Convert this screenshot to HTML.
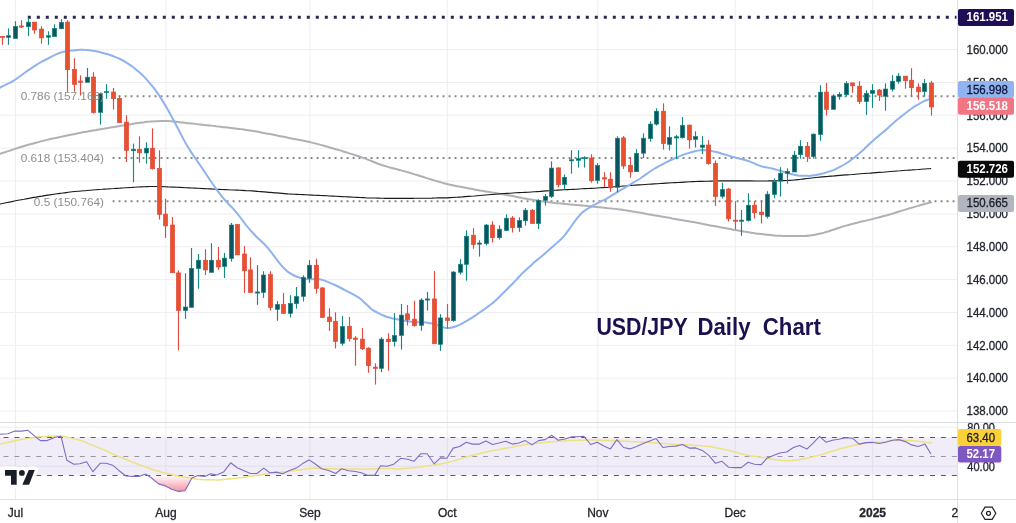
<!DOCTYPE html><html><head><meta charset="utf-8"><title>USD/JPY Daily Chart</title>
<style>html,body{margin:0;padding:0;background:#fff;}body{width:1016px;height:523px;overflow:hidden;font-family:"Liberation Sans",sans-serif;}svg{display:block;filter:blur(0.4px)}text{font-family:"Liberation Sans",sans-serif;}</style></head><body>
<svg width="1016" height="523" viewBox="0 0 1016 523">
<defs><linearGradient id="os" x1="0" y1="475" x2="0" y2="492" gradientUnits="userSpaceOnUse"><stop offset="0" stop-color="#ffffff"/><stop offset="1" stop-color="#f48fa0"/></linearGradient>
<clipPath id="below30"><rect x="0" y="475" width="957" height="25"/></clipPath>
<clipPath id="main"><rect x="0" y="0" width="957" height="422"/></clipPath></defs>
<rect width="1016" height="523" fill="#ffffff"/>
<g stroke="#eeeef1" stroke-width="1">
<line x1="0" y1="411.1" x2="957.5" y2="411.1"/>
<line x1="0" y1="378.2" x2="957.5" y2="378.2"/>
<line x1="0" y1="345.3" x2="957.5" y2="345.3"/>
<line x1="0" y1="312.5" x2="957.5" y2="312.5"/>
<line x1="0" y1="279.6" x2="957.5" y2="279.6"/>
<line x1="0" y1="246.8" x2="957.5" y2="246.8"/>
<line x1="0" y1="213.9" x2="957.5" y2="213.9"/>
<line x1="0" y1="181.0" x2="957.5" y2="181.0"/>
<line x1="0" y1="148.2" x2="957.5" y2="148.2"/>
<line x1="0" y1="115.3" x2="957.5" y2="115.3"/>
<line x1="0" y1="82.5" x2="957.5" y2="82.5"/>
<line x1="0" y1="49.6" x2="957.5" y2="49.6"/>
<line x1="15.4" y1="0" x2="15.4" y2="499"/>
<line x1="165.9" y1="0" x2="165.9" y2="499"/>
<line x1="309.9" y1="0" x2="309.9" y2="499"/>
<line x1="447.3" y1="0" x2="447.3" y2="499"/>
<line x1="597.8" y1="0" x2="597.8" y2="499"/>
<line x1="735.2" y1="0" x2="735.2" y2="499"/>
<line x1="872.7" y1="0" x2="872.7" y2="499"/>
<line x1="0" y1="427.3" x2="957.5" y2="427.3"/>
<line x1="0" y1="466.2" x2="957.5" y2="466.2"/>
</g>
<rect x="0" y="437.4" width="957.5" height="37.8" fill="#7e57c2" fill-opacity="0.11"/>
<line x1="27.8" y1="17.3" x2="956.5" y2="17.3" stroke="#2c2552" stroke-width="3.0" stroke-dasharray="3.0 6.0"/>
<line x1="112.6" y1="96.2" x2="955.5" y2="96.2" stroke="#858585" stroke-width="1.9" stroke-dasharray="1.9 4.1"/>
<line x1="112.6" y1="158.0" x2="955.5" y2="158.0" stroke="#858585" stroke-width="1.9" stroke-dasharray="1.9 4.1"/>
<line x1="112.6" y1="201.3" x2="955.5" y2="201.3" stroke="#858585" stroke-width="1.9" stroke-dasharray="1.9 4.1"/>
<g fill="none" stroke-linejoin="round" stroke-linecap="round" clip-path="url(#main)">
<path d="M0.0 153.9 C1.0 153.6 4.0 152.6 6.0 151.9 C8.0 151.2 10.0 150.6 12.0 149.9 C14.0 149.3 16.0 148.6 18.0 147.9 C20.0 147.3 22.0 146.6 24.0 146.0 C26.0 145.4 28.0 144.8 30.0 144.3 C32.0 143.7 34.0 143.2 36.0 142.7 C38.0 142.2 40.0 141.6 42.0 141.1 C44.0 140.6 46.0 140.1 48.0 139.6 C50.0 139.1 52.0 138.7 54.0 138.3 C56.0 137.8 58.0 137.5 60.0 137.1 C62.0 136.6 64.0 136.2 66.0 135.8 C68.0 135.4 70.0 135.0 72.0 134.5 C74.0 134.1 76.0 133.7 78.0 133.3 C80.0 132.9 82.0 132.5 84.0 132.1 C86.0 131.8 88.0 131.4 90.0 131.0 C92.0 130.7 94.0 130.3 96.0 130.0 C98.0 129.6 100.0 129.3 102.0 128.9 C104.0 128.6 106.0 128.2 108.0 127.9 C110.0 127.5 112.0 127.2 114.0 126.9 C116.0 126.6 118.0 126.3 120.0 126.0 C122.0 125.6 124.0 125.3 126.0 125.0 C128.0 124.7 130.0 124.4 132.0 124.1 C134.0 123.7 136.0 123.4 138.0 123.1 C140.0 122.8 142.0 122.4 144.0 122.2 C146.0 121.9 148.0 121.7 150.0 121.6 C152.0 121.4 154.0 121.3 156.0 121.2 C158.0 121.1 160.0 121.0 162.0 121.0 C164.0 121.0 166.0 121.0 168.0 121.1 C170.0 121.2 172.0 121.4 174.0 121.6 C176.0 121.8 178.0 122.0 180.0 122.2 C182.0 122.4 184.0 122.7 186.0 122.9 C188.0 123.2 190.0 123.4 192.0 123.6 C194.0 123.8 196.0 124.0 198.0 124.3 C200.0 124.5 202.0 124.7 204.0 124.9 C206.0 125.1 208.0 125.3 210.0 125.5 C212.0 125.7 214.0 125.9 216.0 126.2 C218.0 126.4 220.0 126.6 222.0 126.9 C224.0 127.1 226.0 127.4 228.0 127.6 C230.0 127.8 232.0 128.1 234.0 128.3 C236.0 128.6 238.0 128.8 240.0 129.1 C242.0 129.3 244.0 129.6 246.0 129.9 C248.0 130.2 250.0 130.5 252.0 130.8 C254.0 131.1 256.0 131.5 258.0 131.8 C260.0 132.2 262.0 132.6 264.0 133.0 C266.0 133.4 268.0 133.8 270.0 134.1 C272.0 134.5 274.0 134.9 276.0 135.3 C278.0 135.7 280.0 136.1 282.0 136.5 C284.0 136.9 286.0 137.3 288.0 137.7 C290.0 138.1 292.0 138.5 294.0 138.9 C296.0 139.3 298.0 139.7 300.0 140.1 C302.0 140.5 304.0 140.9 306.0 141.3 C308.0 141.7 310.0 142.1 312.0 142.6 C314.0 143.1 316.0 143.6 318.0 144.1 C320.0 144.6 322.0 145.2 324.0 145.8 C326.0 146.3 328.0 146.9 330.0 147.5 C332.0 148.0 334.0 148.6 336.0 149.2 C338.0 149.7 340.0 150.4 342.0 151.0 C344.0 151.6 346.0 152.3 348.0 152.9 C350.0 153.5 352.0 154.2 354.0 154.8 C356.0 155.5 358.0 156.1 360.0 156.8 C362.0 157.5 364.0 158.2 366.0 158.9 C368.0 159.7 370.0 160.5 372.0 161.3 C374.0 162.1 376.0 162.9 378.0 163.7 C380.0 164.4 382.0 165.1 384.0 165.8 C386.0 166.4 388.0 166.9 390.0 167.5 C392.0 168.0 394.0 168.5 396.0 169.0 C398.0 169.5 400.0 170.0 402.0 170.6 C404.0 171.1 406.0 171.7 408.0 172.3 C410.0 172.9 412.0 173.5 414.0 174.1 C416.0 174.7 418.0 175.4 420.0 176.0 C422.0 176.6 424.0 177.2 426.0 177.9 C428.0 178.5 430.0 179.1 432.0 179.7 C434.0 180.3 436.0 180.9 438.0 181.5 C440.0 182.0 442.0 182.7 444.0 183.2 C446.0 183.8 448.0 184.3 450.0 184.7 C452.0 185.2 454.0 185.6 456.0 186.0 C458.0 186.4 460.0 186.7 462.0 187.1 C464.0 187.5 466.0 187.9 468.0 188.3 C470.0 188.7 472.0 189.0 474.0 189.4 C476.0 189.8 478.0 190.1 480.0 190.5 C482.0 190.8 484.0 191.1 486.0 191.5 C488.0 191.8 490.0 192.1 492.0 192.5 C494.0 192.8 496.0 193.1 498.0 193.5 C500.0 193.8 502.0 194.2 504.0 194.5 C506.0 194.9 508.0 195.3 510.0 195.6 C512.0 196.0 514.0 196.4 516.0 196.8 C518.0 197.1 520.0 197.5 522.0 197.9 C524.0 198.2 526.0 198.6 528.0 199.0 C530.0 199.3 532.0 199.7 534.0 200.1 C536.0 200.4 538.0 200.7 540.0 201.0 C542.0 201.3 544.0 201.5 546.0 201.8 C548.0 202.1 550.0 202.3 552.0 202.6 C554.0 202.8 556.0 203.1 558.0 203.3 C560.0 203.5 562.0 203.7 564.0 203.8 C566.0 204.0 568.0 204.2 570.0 204.4 C572.0 204.6 574.0 204.8 576.0 204.9 C578.0 205.1 580.0 205.3 582.0 205.5 C584.0 205.7 586.0 205.9 588.0 206.1 C590.0 206.3 592.0 206.5 594.0 206.7 C596.0 206.9 598.0 207.1 600.0 207.3 C602.0 207.5 604.0 207.7 606.0 207.9 C608.0 208.1 610.0 208.3 612.0 208.6 C614.0 208.8 616.0 209.0 618.0 209.3 C620.0 209.5 622.0 209.8 624.0 210.1 C626.0 210.3 628.0 210.7 630.0 211.0 C632.0 211.3 634.0 211.7 636.0 212.1 C638.0 212.4 640.0 212.8 642.0 213.1 C644.0 213.5 646.0 213.9 648.0 214.2 C650.0 214.6 652.0 214.9 654.0 215.3 C656.0 215.6 658.0 216.0 660.0 216.3 C662.0 216.6 664.0 217.0 666.0 217.3 C668.0 217.7 670.0 218.0 672.0 218.4 C674.0 218.7 676.0 219.1 678.0 219.4 C680.0 219.8 682.0 220.1 684.0 220.5 C686.0 220.8 688.0 221.2 690.0 221.6 C692.0 221.9 694.0 222.3 696.0 222.6 C698.0 223.0 700.0 223.4 702.0 223.8 C704.0 224.1 706.0 224.5 708.0 224.9 C710.0 225.3 712.0 225.7 714.0 226.0 C716.0 226.4 718.0 226.8 720.0 227.2 C722.0 227.6 724.0 227.9 726.0 228.3 C728.0 228.7 730.0 229.0 732.0 229.4 C734.0 229.8 736.0 230.1 738.0 230.5 C740.0 230.8 742.0 231.2 744.0 231.6 C746.0 231.9 748.0 232.3 750.0 232.6 C752.0 232.9 754.0 233.1 756.0 233.4 C758.0 233.6 760.0 233.9 762.0 234.1 C764.0 234.3 766.0 234.6 768.0 234.8 C770.0 235.0 772.0 235.3 774.0 235.4 C776.0 235.6 778.0 235.7 780.0 235.8 C782.0 235.9 784.0 235.9 786.0 236.0 C788.0 236.0 790.0 236.1 792.0 236.1 C794.0 236.1 796.0 236.1 798.0 236.1 C800.0 236.1 802.0 236.1 804.0 236.1 C806.0 236.0 808.0 235.8 810.0 235.5 C812.0 235.3 814.0 234.9 816.0 234.5 C818.0 234.1 820.0 233.7 822.0 233.2 C824.0 232.6 826.0 232.1 828.0 231.5 C830.0 230.8 832.0 230.1 834.0 229.5 C836.0 228.8 838.0 228.1 840.0 227.5 C842.0 226.8 844.0 226.2 846.0 225.6 C848.0 225.0 850.0 224.5 852.0 224.0 C854.0 223.5 856.0 223.0 858.0 222.5 C860.0 222.0 862.0 221.5 864.0 221.1 C866.0 220.6 868.0 220.1 870.0 219.6 C872.0 219.1 874.0 218.6 876.0 218.1 C878.0 217.6 880.0 217.1 882.0 216.5 C884.0 216.0 886.0 215.5 888.0 215.0 C890.0 214.4 892.0 213.8 894.0 213.2 C896.0 212.6 898.0 212.0 900.0 211.3 C902.0 210.7 904.0 210.0 906.0 209.4 C908.0 208.8 910.0 208.2 912.0 207.6 C914.0 207.0 916.0 206.4 918.0 205.9 C920.0 205.3 922.0 204.8 924.0 204.2 C926.0 203.7 928.8 202.9 930.0 202.6 C931.2 202.3 930.8 202.4 931.0 202.4" stroke="#b0b0b6" stroke-width="2"/>
<path d="M0.0 204.0 C1.0 203.8 4.0 203.2 6.0 202.8 C8.0 202.4 10.0 202.0 12.0 201.6 C14.0 201.1 16.0 200.7 18.0 200.3 C20.0 199.9 22.0 199.5 24.0 199.2 C26.0 198.8 28.0 198.4 30.0 198.1 C32.0 197.7 34.0 197.4 36.0 197.1 C38.0 196.7 40.0 196.4 42.0 196.1 C44.0 195.7 46.0 195.4 48.0 195.1 C50.0 194.8 52.0 194.5 54.0 194.2 C56.0 193.9 58.0 193.7 60.0 193.4 C62.0 193.1 64.0 192.9 66.0 192.6 C68.0 192.4 70.0 192.1 72.0 191.8 C74.0 191.6 76.0 191.4 78.0 191.2 C80.0 191.0 82.0 190.9 84.0 190.7 C86.0 190.5 88.0 190.4 90.0 190.2 C92.0 190.1 94.0 189.9 96.0 189.7 C98.0 189.6 100.0 189.4 102.0 189.3 C104.0 189.1 106.0 189.0 108.0 188.9 C110.0 188.7 112.0 188.6 114.0 188.5 C116.0 188.3 118.0 188.2 120.0 188.1 C122.0 187.9 124.0 187.8 126.0 187.7 C128.0 187.6 130.0 187.5 132.0 187.4 C134.0 187.2 136.0 187.1 138.0 187.0 C140.0 186.9 142.0 186.8 144.0 186.7 C146.0 186.6 148.0 186.6 150.0 186.5 C152.0 186.5 154.0 186.5 156.0 186.5 C158.0 186.5 160.0 186.6 162.0 186.6 C164.0 186.7 166.0 186.8 168.0 186.9 C170.0 186.9 172.0 187.0 174.0 187.1 C176.0 187.2 178.0 187.3 180.0 187.4 C182.0 187.5 184.0 187.6 186.0 187.7 C188.0 187.8 190.0 187.9 192.0 188.0 C194.0 188.1 196.0 188.2 198.0 188.3 C200.0 188.4 202.0 188.5 204.0 188.6 C206.0 188.7 208.0 188.8 210.0 188.9 C212.0 189.0 214.0 189.1 216.0 189.2 C218.0 189.3 220.0 189.4 222.0 189.5 C224.0 189.6 226.0 189.7 228.0 189.8 C230.0 189.9 232.0 190.0 234.0 190.0 C236.0 190.1 238.0 190.2 240.0 190.3 C242.0 190.4 244.0 190.4 246.0 190.6 C248.0 190.7 250.0 190.8 252.0 190.9 C254.0 191.1 256.0 191.2 258.0 191.4 C260.0 191.5 262.0 191.7 264.0 191.9 C266.0 192.1 268.0 192.2 270.0 192.4 C272.0 192.6 274.0 192.7 276.0 192.9 C278.0 193.1 280.0 193.3 282.0 193.4 C284.0 193.6 286.0 193.7 288.0 193.9 C290.0 194.0 292.0 194.1 294.0 194.2 C296.0 194.3 298.0 194.4 300.0 194.5 C302.0 194.6 304.0 194.7 306.0 194.8 C308.0 194.9 310.0 195.0 312.0 195.1 C314.0 195.2 316.0 195.3 318.0 195.4 C320.0 195.5 322.0 195.5 324.0 195.6 C326.0 195.7 328.0 195.9 330.0 196.0 C332.0 196.1 334.0 196.2 336.0 196.3 C338.0 196.4 340.0 196.5 342.0 196.6 C344.0 196.7 346.0 196.8 348.0 196.9 C350.0 197.0 352.0 197.1 354.0 197.2 C356.0 197.3 358.0 197.4 360.0 197.5 C362.0 197.6 364.0 197.7 366.0 197.8 C368.0 197.8 370.0 197.9 372.0 198.0 C374.0 198.0 376.0 198.1 378.0 198.1 C380.0 198.2 382.0 198.2 384.0 198.3 C386.0 198.3 388.0 198.3 390.0 198.4 C392.0 198.4 394.0 198.4 396.0 198.4 C398.0 198.4 400.0 198.3 402.0 198.3 C404.0 198.3 406.0 198.3 408.0 198.3 C410.0 198.3 412.0 198.3 414.0 198.3 C416.0 198.2 418.0 198.2 420.0 198.2 C422.0 198.2 424.0 198.2 426.0 198.2 C428.0 198.1 430.0 198.1 432.0 198.1 C434.0 198.0 436.0 198.0 438.0 197.9 C440.0 197.9 442.0 197.9 444.0 197.8 C446.0 197.8 448.0 197.7 450.0 197.6 C452.0 197.5 454.0 197.4 456.0 197.3 C458.0 197.2 460.0 197.0 462.0 196.9 C464.0 196.7 466.0 196.6 468.0 196.4 C470.0 196.3 472.0 196.1 474.0 196.0 C476.0 195.8 478.0 195.7 480.0 195.5 C482.0 195.4 484.0 195.2 486.0 195.0 C488.0 194.9 490.0 194.7 492.0 194.5 C494.0 194.3 496.0 194.2 498.0 194.0 C500.0 193.9 502.0 193.7 504.0 193.5 C506.0 193.4 508.0 193.3 510.0 193.2 C512.0 193.0 514.0 193.0 516.0 192.8 C518.0 192.7 520.0 192.6 522.0 192.5 C524.0 192.4 526.0 192.3 528.0 192.2 C530.0 192.1 532.0 192.0 534.0 191.8 C536.0 191.7 538.0 191.5 540.0 191.4 C542.0 191.2 544.0 191.1 546.0 190.9 C548.0 190.8 550.0 190.6 552.0 190.5 C554.0 190.4 556.0 190.2 558.0 190.1 C560.0 190.0 562.0 189.9 564.0 189.8 C566.0 189.7 568.0 189.6 570.0 189.5 C572.0 189.4 574.0 189.3 576.0 189.2 C578.0 189.1 580.0 188.9 582.0 188.8 C584.0 188.7 586.0 188.6 588.0 188.5 C590.0 188.4 592.0 188.3 594.0 188.2 C596.0 188.1 598.0 188.0 600.0 187.8 C602.0 187.7 604.0 187.6 606.0 187.5 C608.0 187.3 610.0 187.2 612.0 187.0 C614.0 186.9 616.0 186.7 618.0 186.5 C620.0 186.3 622.0 186.2 624.0 186.0 C626.0 185.8 628.0 185.7 630.0 185.5 C632.0 185.4 634.0 185.2 636.0 185.1 C638.0 185.0 640.0 184.8 642.0 184.7 C644.0 184.6 646.0 184.4 648.0 184.3 C650.0 184.2 652.0 184.1 654.0 183.9 C656.0 183.8 658.0 183.7 660.0 183.5 C662.0 183.4 664.0 183.3 666.0 183.1 C668.0 183.0 670.0 182.9 672.0 182.8 C674.0 182.7 676.0 182.6 678.0 182.5 C680.0 182.4 682.0 182.3 684.0 182.1 C686.0 182.0 688.0 181.9 690.0 181.8 C692.0 181.7 694.0 181.6 696.0 181.5 C698.0 181.4 700.0 181.4 702.0 181.3 C704.0 181.3 706.0 181.2 708.0 181.2 C710.0 181.1 712.0 181.1 714.0 181.0 C716.0 181.0 718.0 180.9 720.0 180.9 C722.0 180.9 724.0 180.8 726.0 180.8 C728.0 180.8 730.0 180.8 732.0 180.8 C734.0 180.9 736.0 180.9 738.0 180.9 C740.0 180.9 742.0 180.9 744.0 180.9 C746.0 180.9 748.0 180.9 750.0 180.9 C752.0 181.0 754.0 181.0 756.0 181.0 C758.0 181.0 760.0 181.0 762.0 181.0 C764.0 180.9 766.0 180.9 768.0 180.9 C770.0 180.8 772.0 180.8 774.0 180.8 C776.0 180.7 778.0 180.7 780.0 180.7 C782.0 180.6 784.0 180.6 786.0 180.5 C788.0 180.5 790.0 180.3 792.0 180.2 C794.0 180.0 796.0 179.8 798.0 179.6 C800.0 179.4 802.0 179.1 804.0 178.9 C806.0 178.7 808.0 178.5 810.0 178.2 C812.0 178.0 814.0 177.8 816.0 177.5 C818.0 177.3 820.0 177.1 822.0 176.9 C824.0 176.7 826.0 176.5 828.0 176.4 C830.0 176.2 832.0 176.0 834.0 175.9 C836.0 175.7 838.0 175.6 840.0 175.4 C842.0 175.3 844.0 175.1 846.0 174.9 C848.0 174.8 850.0 174.6 852.0 174.5 C854.0 174.3 856.0 174.2 858.0 174.0 C860.0 173.9 862.0 173.7 864.0 173.5 C866.0 173.4 868.0 173.2 870.0 173.1 C872.0 172.9 874.0 172.8 876.0 172.6 C878.0 172.5 880.0 172.3 882.0 172.2 C884.0 172.0 886.0 171.9 888.0 171.7 C890.0 171.6 892.0 171.4 894.0 171.2 C896.0 171.1 898.0 170.9 900.0 170.8 C902.0 170.6 904.0 170.5 906.0 170.3 C908.0 170.2 910.0 170.0 912.0 169.9 C914.0 169.7 916.0 169.6 918.0 169.5 C920.0 169.3 922.0 169.2 924.0 169.0 C926.0 168.9 928.9 168.6 930.0 168.6 C931.1 168.5 930.4 168.5 930.5 168.5" stroke="#1a1a1a" stroke-width="1.15"/>
<path d="M0.0 87.6 C1.0 87.1 4.0 85.6 6.0 84.6 C8.0 83.6 10.0 82.8 12.0 81.6 C14.0 80.5 16.0 79.2 18.0 77.8 C20.0 76.4 22.0 74.7 24.0 73.3 C26.0 71.8 28.0 70.4 30.0 69.1 C32.0 67.7 34.0 66.4 36.0 65.1 C38.0 63.9 40.0 62.7 42.0 61.5 C44.0 60.4 46.0 59.5 48.0 58.5 C50.0 57.4 52.0 56.4 54.0 55.4 C56.0 54.5 58.0 53.5 60.0 52.8 C62.0 52.1 64.0 51.7 66.0 51.3 C68.0 50.9 70.0 50.6 72.0 50.4 C74.0 50.2 76.0 50.1 78.0 49.9 C80.0 49.8 82.0 49.6 84.0 49.7 C86.0 49.7 88.0 49.9 90.0 50.2 C92.0 50.5 94.0 50.9 96.0 51.3 C98.0 51.7 100.0 52.2 102.0 52.7 C104.0 53.2 106.0 53.7 108.0 54.3 C110.0 55.0 112.0 55.7 114.0 56.5 C116.0 57.3 118.0 58.0 120.0 59.0 C122.0 60.0 124.0 61.1 126.0 62.3 C128.0 63.5 130.0 64.8 132.0 66.3 C134.0 67.8 136.0 69.5 138.0 71.2 C140.0 72.9 142.0 74.5 144.0 76.6 C146.0 78.6 148.0 81.0 150.0 83.4 C152.0 85.7 154.0 88.1 156.0 90.9 C158.0 93.6 160.0 96.7 162.0 99.9 C164.0 103.1 166.0 106.5 168.0 110.0 C170.0 113.5 172.0 117.2 174.0 121.0 C176.0 124.7 178.0 128.7 180.0 132.5 C182.0 136.3 184.0 140.3 186.0 143.7 C188.0 147.2 190.0 150.3 192.0 153.4 C194.0 156.5 196.0 159.2 198.0 162.1 C200.0 165.0 202.0 168.0 204.0 170.9 C206.0 173.9 208.0 177.0 210.0 180.0 C212.0 182.9 214.0 185.8 216.0 188.6 C218.0 191.4 220.0 194.1 222.0 196.6 C224.0 199.1 226.0 201.3 228.0 203.5 C230.0 205.7 232.0 207.4 234.0 209.6 C236.0 211.9 238.0 214.5 240.0 217.0 C242.0 219.6 244.0 222.5 246.0 225.0 C248.0 227.5 250.0 229.8 252.0 232.0 C254.0 234.2 256.0 236.4 258.0 238.3 C260.0 240.3 262.0 241.7 264.0 243.8 C266.0 245.8 268.0 248.2 270.0 250.7 C272.0 253.2 274.0 255.9 276.0 258.5 C278.0 261.1 280.0 263.8 282.0 266.1 C284.0 268.3 286.0 270.3 288.0 271.9 C290.0 273.4 292.0 274.5 294.0 275.5 C296.0 276.5 298.0 277.2 300.0 277.8 C302.0 278.4 304.0 278.8 306.0 279.1 C308.0 279.3 310.0 279.2 312.0 279.2 C314.0 279.2 316.0 278.9 318.0 279.1 C320.0 279.3 322.0 279.8 324.0 280.4 C326.0 281.1 328.0 282.0 330.0 282.9 C332.0 283.7 334.0 284.6 336.0 285.5 C338.0 286.5 340.0 287.5 342.0 288.5 C344.0 289.5 346.0 290.6 348.0 291.6 C350.0 292.7 352.0 293.7 354.0 294.9 C356.0 296.0 358.0 296.9 360.0 298.5 C362.0 300.0 364.0 302.2 366.0 304.0 C368.0 305.8 370.0 308.0 372.0 309.5 C374.0 310.9 376.0 311.8 378.0 312.9 C380.0 313.9 382.0 314.9 384.0 315.7 C386.0 316.5 388.0 317.2 390.0 317.7 C392.0 318.3 394.0 318.7 396.0 319.1 C398.0 319.5 400.0 319.9 402.0 320.2 C404.0 320.6 406.0 320.9 408.0 321.2 C410.0 321.5 412.0 321.8 414.0 322.0 C416.0 322.2 418.0 322.2 420.0 322.3 C422.0 322.4 424.0 322.2 426.0 322.4 C428.0 322.6 430.0 323.0 432.0 323.5 C434.0 324.0 436.0 324.7 438.0 325.4 C440.0 326.0 442.0 327.0 444.0 327.4 C446.0 327.8 448.0 328.1 450.0 327.9 C452.0 327.7 454.0 327.0 456.0 326.3 C458.0 325.6 460.0 324.6 462.0 323.6 C464.0 322.6 466.0 321.4 468.0 320.2 C470.0 319.0 472.0 317.7 474.0 316.4 C476.0 315.0 478.0 313.7 480.0 312.3 C482.0 310.9 484.0 309.5 486.0 308.1 C488.0 306.6 490.0 305.3 492.0 303.6 C494.0 302.0 496.0 300.1 498.0 298.2 C500.0 296.3 502.0 294.2 504.0 292.2 C506.0 290.2 508.0 288.3 510.0 286.3 C512.0 284.2 514.0 282.2 516.0 280.1 C518.0 278.0 520.0 275.6 522.0 273.6 C524.0 271.6 526.0 269.8 528.0 268.0 C530.0 266.1 532.0 264.4 534.0 262.6 C536.0 260.9 538.0 259.2 540.0 257.6 C542.0 255.9 544.0 254.3 546.0 252.5 C548.0 250.8 550.0 249.1 552.0 247.3 C554.0 245.5 556.0 243.8 558.0 241.9 C560.0 240.1 562.0 238.4 564.0 236.1 C566.0 233.8 568.0 230.8 570.0 228.0 C572.0 225.3 574.0 222.1 576.0 219.6 C578.0 217.0 580.0 214.6 582.0 212.7 C584.0 210.9 586.0 209.8 588.0 208.5 C590.0 207.2 592.0 206.1 594.0 205.0 C596.0 203.8 598.0 202.8 600.0 201.8 C602.0 200.8 604.0 200.1 606.0 199.1 C608.0 198.0 610.0 196.6 612.0 195.4 C614.0 194.2 616.0 192.9 618.0 191.7 C620.0 190.5 622.0 189.4 624.0 188.2 C626.0 187.0 628.0 185.8 630.0 184.6 C632.0 183.4 634.0 182.3 636.0 181.0 C638.0 179.8 640.0 178.6 642.0 177.2 C644.0 175.9 646.0 174.4 648.0 173.0 C650.0 171.6 652.0 170.2 654.0 169.0 C656.0 167.7 658.0 166.7 660.0 165.6 C662.0 164.6 664.0 163.5 666.0 162.4 C668.0 161.4 670.0 160.4 672.0 159.5 C674.0 158.5 676.0 157.7 678.0 156.9 C680.0 156.1 682.0 155.2 684.0 154.5 C686.0 153.8 688.0 153.2 690.0 152.6 C692.0 152.1 694.0 151.5 696.0 151.0 C698.0 150.6 700.0 150.0 702.0 149.9 C704.0 149.9 706.0 150.3 708.0 150.5 C710.0 150.8 712.0 151.1 714.0 151.6 C716.0 152.0 718.0 152.5 720.0 153.0 C722.0 153.6 724.0 154.3 726.0 154.9 C728.0 155.5 730.0 156.1 732.0 156.7 C734.0 157.2 736.0 157.7 738.0 158.2 C740.0 158.7 742.0 159.1 744.0 159.7 C746.0 160.3 748.0 160.9 750.0 161.6 C752.0 162.4 754.0 163.4 756.0 164.2 C758.0 165.0 760.0 165.9 762.0 166.5 C764.0 167.0 766.0 167.2 768.0 167.6 C770.0 168.1 772.0 168.5 774.0 169.0 C776.0 169.6 778.0 170.2 780.0 170.8 C782.0 171.3 784.0 171.9 786.0 172.5 C788.0 173.1 790.0 173.8 792.0 174.3 C794.0 174.8 796.0 175.2 798.0 175.4 C800.0 175.7 802.0 175.7 804.0 175.8 C806.0 175.8 808.0 176.0 810.0 175.9 C812.0 175.7 814.0 175.3 816.0 175.0 C818.0 174.6 820.0 174.2 822.0 173.7 C824.0 173.2 826.0 172.6 828.0 171.9 C830.0 171.3 832.0 170.7 834.0 169.9 C836.0 169.0 838.0 168.0 840.0 166.9 C842.0 165.9 844.0 164.7 846.0 163.5 C848.0 162.2 850.0 160.7 852.0 159.2 C854.0 157.7 856.0 156.1 858.0 154.4 C860.0 152.7 862.0 151.0 864.0 149.2 C866.0 147.3 868.0 145.3 870.0 143.5 C872.0 141.7 874.0 139.9 876.0 138.1 C878.0 136.4 880.0 134.9 882.0 133.1 C884.0 131.4 886.0 129.7 888.0 127.9 C890.0 126.1 892.0 124.2 894.0 122.5 C896.0 120.7 898.0 119.1 900.0 117.4 C902.0 115.8 904.0 114.2 906.0 112.7 C908.0 111.1 910.0 109.6 912.0 108.2 C914.0 106.8 916.0 105.7 918.0 104.5 C920.0 103.3 922.1 102.0 924.0 101.1 C925.9 100.2 928.6 99.5 929.5 99.1" stroke="#8fb3ee" stroke-width="2"/>
</g>
<g>
<line x1="2.5" y1="36.2" x2="2.5" y2="44.8" stroke="#dc4a40" stroke-width="1.15"/>
<rect x="0.3" y="36.3" width="4.4" height="1.2" fill="#e8512d" stroke="#dc4a40" stroke-width="0.6"/>
<line x1="8.5" y1="28.4" x2="8.5" y2="44.8" stroke="#168a80" stroke-width="1.15"/>
<rect x="6.3" y="35.7" width="4.4" height="1.8" fill="#0b5560" stroke="#168a80" stroke-width="0.6"/>
<line x1="15.5" y1="21.2" x2="15.5" y2="38.5" stroke="#168a80" stroke-width="1.15"/>
<rect x="13.3" y="26.3" width="4.4" height="12.2" fill="#0b5560" stroke="#168a80" stroke-width="0.6"/>
<line x1="21.5" y1="20.2" x2="21.5" y2="28.0" stroke="#dc4a40" stroke-width="1.15"/>
<rect x="19.3" y="25.9" width="4.4" height="1.2" fill="#e8512d" stroke="#dc4a40" stroke-width="0.6"/>
<line x1="28.5" y1="17.7" x2="28.5" y2="36.0" stroke="#168a80" stroke-width="1.15"/>
<rect x="26.3" y="22.1" width="4.4" height="4.7" fill="#0b5560" stroke="#168a80" stroke-width="0.6"/>
<line x1="34.5" y1="22.1" x2="34.5" y2="33.8" stroke="#dc4a40" stroke-width="1.15"/>
<rect x="32.3" y="22.1" width="4.4" height="7.9" fill="#e8512d" stroke="#dc4a40" stroke-width="0.6"/>
<line x1="41.5" y1="26.3" x2="41.5" y2="43.6" stroke="#dc4a40" stroke-width="1.15"/>
<rect x="39.3" y="29.0" width="4.4" height="8.9" fill="#e8512d" stroke="#dc4a40" stroke-width="0.6"/>
<line x1="48.5" y1="31.3" x2="48.5" y2="44.8" stroke="#168a80" stroke-width="1.15"/>
<rect x="46.3" y="35.7" width="4.4" height="1.5" fill="#0b5560" stroke="#168a80" stroke-width="0.6"/>
<line x1="54.5" y1="24.2" x2="54.5" y2="36.6" stroke="#168a80" stroke-width="1.15"/>
<rect x="52.3" y="28.4" width="4.4" height="8.2" fill="#0b5560" stroke="#168a80" stroke-width="0.6"/>
<line x1="61.5" y1="19.2" x2="61.5" y2="28.8" stroke="#168a80" stroke-width="1.15"/>
<rect x="59.3" y="22.3" width="4.4" height="6.5" fill="#0b5560" stroke="#168a80" stroke-width="0.6"/>
<line x1="67.5" y1="20.2" x2="67.5" y2="91.8" stroke="#dc4a40" stroke-width="1.15"/>
<rect x="65.3" y="22.1" width="4.4" height="47.6" fill="#e8512d" stroke="#dc4a40" stroke-width="0.6"/>
<line x1="74.5" y1="58.3" x2="74.5" y2="91.8" stroke="#dc4a40" stroke-width="1.15"/>
<rect x="72.3" y="69.3" width="4.4" height="15.1" fill="#e8512d" stroke="#dc4a40" stroke-width="0.6"/>
<line x1="80.5" y1="75.4" x2="80.5" y2="95.6" stroke="#dc4a40" stroke-width="1.15"/>
<rect x="78.3" y="81.0" width="4.4" height="1.3" fill="#e8512d" stroke="#dc4a40" stroke-width="0.6"/>
<line x1="87.5" y1="68.0" x2="87.5" y2="82.3" stroke="#168a80" stroke-width="1.15"/>
<rect x="85.3" y="77.2" width="4.4" height="5.1" fill="#0b5560" stroke="#168a80" stroke-width="0.6"/>
<line x1="93.5" y1="72.2" x2="93.5" y2="113.6" stroke="#dc4a40" stroke-width="1.15"/>
<rect x="91.3" y="77.0" width="4.4" height="35.6" fill="#e8512d" stroke="#dc4a40" stroke-width="0.6"/>
<line x1="100.5" y1="93.7" x2="100.5" y2="124.6" stroke="#168a80" stroke-width="1.15"/>
<rect x="98.3" y="93.7" width="4.4" height="18.7" fill="#0b5560" stroke="#168a80" stroke-width="0.6"/>
<line x1="106.5" y1="84.2" x2="106.5" y2="98.7" stroke="#168a80" stroke-width="1.15"/>
<rect x="104.3" y="91.5" width="4.4" height="1.2" fill="#0b5560" stroke="#168a80" stroke-width="0.6"/>
<line x1="113.5" y1="88.0" x2="113.5" y2="109.5" stroke="#dc4a40" stroke-width="1.15"/>
<rect x="111.3" y="92.0" width="4.4" height="6.7" fill="#e8512d" stroke="#dc4a40" stroke-width="0.6"/>
<line x1="119.5" y1="95.5" x2="119.5" y2="122.7" stroke="#dc4a40" stroke-width="1.15"/>
<rect x="117.3" y="98.3" width="4.4" height="24.4" fill="#e8512d" stroke="#dc4a40" stroke-width="0.6"/>
<line x1="126.5" y1="115.2" x2="126.5" y2="162.0" stroke="#dc4a40" stroke-width="1.15"/>
<rect x="124.3" y="122.1" width="4.4" height="28.4" fill="#e8512d" stroke="#dc4a40" stroke-width="0.6"/>
<line x1="133.5" y1="143.6" x2="133.5" y2="182.2" stroke="#168a80" stroke-width="1.15"/>
<rect x="131.3" y="149.2" width="4.4" height="1.6" fill="#0b5560" stroke="#168a80" stroke-width="0.6"/>
<line x1="139.5" y1="136.4" x2="139.5" y2="162.6" stroke="#dc4a40" stroke-width="1.15"/>
<rect x="137.3" y="149.2" width="4.4" height="3.6" fill="#e8512d" stroke="#dc4a40" stroke-width="0.6"/>
<line x1="146.5" y1="142.3" x2="146.5" y2="163.6" stroke="#168a80" stroke-width="1.15"/>
<rect x="144.3" y="148.2" width="4.4" height="4.8" fill="#0b5560" stroke="#168a80" stroke-width="0.6"/>
<line x1="152.5" y1="128.4" x2="152.5" y2="169.6" stroke="#dc4a40" stroke-width="1.15"/>
<rect x="150.3" y="148.2" width="4.4" height="20.5" fill="#e8512d" stroke="#dc4a40" stroke-width="0.6"/>
<line x1="159.5" y1="150.3" x2="159.5" y2="219.6" stroke="#dc4a40" stroke-width="1.15"/>
<rect x="157.3" y="168.3" width="4.4" height="46.2" fill="#e8512d" stroke="#dc4a40" stroke-width="0.6"/>
<line x1="165.5" y1="198.6" x2="165.5" y2="237.9" stroke="#dc4a40" stroke-width="1.15"/>
<rect x="163.3" y="214.1" width="4.4" height="11.8" fill="#e8512d" stroke="#dc4a40" stroke-width="0.6"/>
<line x1="172.5" y1="217.0" x2="172.5" y2="272.7" stroke="#dc4a40" stroke-width="1.15"/>
<rect x="170.3" y="225.0" width="4.4" height="47.7" fill="#e8512d" stroke="#dc4a40" stroke-width="0.6"/>
<line x1="178.5" y1="270.4" x2="178.5" y2="350.3" stroke="#dc4a40" stroke-width="1.15"/>
<rect x="176.3" y="272.9" width="4.4" height="37.7" fill="#e8512d" stroke="#dc4a40" stroke-width="0.6"/>
<line x1="185.5" y1="273.3" x2="185.5" y2="318.8" stroke="#168a80" stroke-width="1.15"/>
<rect x="183.3" y="307.0" width="4.4" height="3.6" fill="#0b5560" stroke="#168a80" stroke-width="0.6"/>
<line x1="191.5" y1="248.0" x2="191.5" y2="307.4" stroke="#168a80" stroke-width="1.15"/>
<rect x="189.3" y="268.3" width="4.4" height="39.1" fill="#0b5560" stroke="#168a80" stroke-width="0.6"/>
<line x1="198.5" y1="254.0" x2="198.5" y2="288.8" stroke="#168a80" stroke-width="1.15"/>
<rect x="196.3" y="260.2" width="4.4" height="8.4" fill="#0b5560" stroke="#168a80" stroke-width="0.6"/>
<line x1="205.5" y1="249.2" x2="205.5" y2="275.0" stroke="#dc4a40" stroke-width="1.15"/>
<rect x="203.3" y="260.2" width="4.4" height="9.7" fill="#e8512d" stroke="#dc4a40" stroke-width="0.6"/>
<line x1="211.5" y1="243.2" x2="211.5" y2="272.4" stroke="#168a80" stroke-width="1.15"/>
<rect x="209.3" y="260.2" width="4.4" height="12.2" fill="#0b5560" stroke="#168a80" stroke-width="0.6"/>
<line x1="218.5" y1="247.0" x2="218.5" y2="269.9" stroke="#dc4a40" stroke-width="1.15"/>
<rect x="216.3" y="260.2" width="4.4" height="6.8" fill="#e8512d" stroke="#dc4a40" stroke-width="0.6"/>
<line x1="224.5" y1="253.0" x2="224.5" y2="278.0" stroke="#168a80" stroke-width="1.15"/>
<rect x="222.3" y="258.1" width="4.4" height="8.5" fill="#0b5560" stroke="#168a80" stroke-width="0.6"/>
<line x1="231.5" y1="223.0" x2="231.5" y2="261.6" stroke="#168a80" stroke-width="1.15"/>
<rect x="229.3" y="225.0" width="4.4" height="33.5" fill="#0b5560" stroke="#168a80" stroke-width="0.6"/>
<line x1="237.5" y1="224.0" x2="237.5" y2="254.9" stroke="#dc4a40" stroke-width="1.15"/>
<rect x="235.3" y="224.6" width="4.4" height="30.3" fill="#e8512d" stroke="#dc4a40" stroke-width="0.6"/>
<line x1="244.5" y1="246.1" x2="244.5" y2="292.9" stroke="#dc4a40" stroke-width="1.15"/>
<rect x="242.3" y="254.0" width="4.4" height="16.8" fill="#e8512d" stroke="#dc4a40" stroke-width="0.6"/>
<line x1="250.5" y1="257.2" x2="250.5" y2="292.6" stroke="#dc4a40" stroke-width="1.15"/>
<rect x="248.3" y="269.9" width="4.4" height="22.7" fill="#e8512d" stroke="#dc4a40" stroke-width="0.6"/>
<line x1="257.5" y1="265.1" x2="257.5" y2="304.9" stroke="#168a80" stroke-width="1.15"/>
<rect x="255.3" y="291.9" width="4.4" height="1.2" fill="#0b5560" stroke="#168a80" stroke-width="0.6"/>
<line x1="263.5" y1="271.2" x2="263.5" y2="297.9" stroke="#168a80" stroke-width="1.15"/>
<rect x="261.3" y="275.0" width="4.4" height="17.6" fill="#0b5560" stroke="#168a80" stroke-width="0.6"/>
<line x1="270.5" y1="271.2" x2="270.5" y2="310.6" stroke="#dc4a40" stroke-width="1.15"/>
<rect x="268.3" y="274.6" width="4.4" height="33.0" fill="#e8512d" stroke="#dc4a40" stroke-width="0.6"/>
<line x1="277.5" y1="301.1" x2="277.5" y2="320.8" stroke="#168a80" stroke-width="1.15"/>
<rect x="275.3" y="304.4" width="4.4" height="5.1" fill="#0b5560" stroke="#168a80" stroke-width="0.6"/>
<line x1="283.5" y1="292.9" x2="283.5" y2="313.5" stroke="#dc4a40" stroke-width="1.15"/>
<rect x="281.3" y="304.3" width="4.4" height="9.2" fill="#e8512d" stroke="#dc4a40" stroke-width="0.6"/>
<line x1="290.5" y1="295.2" x2="290.5" y2="317.6" stroke="#168a80" stroke-width="1.15"/>
<rect x="288.3" y="303.3" width="4.4" height="10.2" fill="#0b5560" stroke="#168a80" stroke-width="0.6"/>
<line x1="296.5" y1="287.0" x2="296.5" y2="308.7" stroke="#168a80" stroke-width="1.15"/>
<rect x="294.3" y="296.5" width="4.4" height="7.2" fill="#0b5560" stroke="#168a80" stroke-width="0.6"/>
<line x1="303.5" y1="275.3" x2="303.5" y2="301.5" stroke="#168a80" stroke-width="1.15"/>
<rect x="301.3" y="277.5" width="4.4" height="19.0" fill="#0b5560" stroke="#168a80" stroke-width="0.6"/>
<line x1="309.5" y1="260.1" x2="309.5" y2="282.8" stroke="#168a80" stroke-width="1.15"/>
<rect x="307.3" y="265.2" width="4.4" height="13.2" fill="#0b5560" stroke="#168a80" stroke-width="0.6"/>
<line x1="316.5" y1="258.8" x2="316.5" y2="293.6" stroke="#dc4a40" stroke-width="1.15"/>
<rect x="314.3" y="265.2" width="4.4" height="23.3" fill="#e8512d" stroke="#dc4a40" stroke-width="0.6"/>
<line x1="322.5" y1="287.2" x2="322.5" y2="317.6" stroke="#dc4a40" stroke-width="1.15"/>
<rect x="320.3" y="287.9" width="4.4" height="29.7" fill="#e8512d" stroke="#dc4a40" stroke-width="0.6"/>
<line x1="329.5" y1="308.3" x2="329.5" y2="330.9" stroke="#dc4a40" stroke-width="1.15"/>
<rect x="327.3" y="317.0" width="4.4" height="4.7" fill="#e8512d" stroke="#dc4a40" stroke-width="0.6"/>
<line x1="335.5" y1="312.3" x2="335.5" y2="348.5" stroke="#dc4a40" stroke-width="1.15"/>
<rect x="333.3" y="321.2" width="4.4" height="20.3" fill="#e8512d" stroke="#dc4a40" stroke-width="0.6"/>
<line x1="342.5" y1="316.1" x2="342.5" y2="345.6" stroke="#168a80" stroke-width="1.15"/>
<rect x="340.3" y="326.5" width="4.4" height="16.9" fill="#0b5560" stroke="#168a80" stroke-width="0.6"/>
<line x1="349.5" y1="317.0" x2="349.5" y2="341.5" stroke="#dc4a40" stroke-width="1.15"/>
<rect x="347.3" y="326.2" width="4.4" height="12.5" fill="#e8512d" stroke="#dc4a40" stroke-width="0.6"/>
<line x1="355.5" y1="336.2" x2="355.5" y2="365.7" stroke="#dc4a40" stroke-width="1.15"/>
<rect x="353.3" y="338.0" width="4.4" height="1.4" fill="#e8512d" stroke="#dc4a40" stroke-width="0.6"/>
<line x1="362.5" y1="328.1" x2="362.5" y2="350.0" stroke="#dc4a40" stroke-width="1.15"/>
<rect x="360.3" y="339.1" width="4.4" height="9.7" fill="#e8512d" stroke="#dc4a40" stroke-width="0.6"/>
<line x1="368.5" y1="347.3" x2="368.5" y2="372.7" stroke="#dc4a40" stroke-width="1.15"/>
<rect x="366.3" y="348.1" width="4.4" height="17.6" fill="#e8512d" stroke="#dc4a40" stroke-width="0.6"/>
<line x1="375.5" y1="363.4" x2="375.5" y2="384.6" stroke="#dc4a40" stroke-width="1.15"/>
<rect x="373.3" y="367.1" width="4.4" height="1.4" fill="#e8512d" stroke="#dc4a40" stroke-width="0.6"/>
<line x1="381.5" y1="337.3" x2="381.5" y2="372.3" stroke="#168a80" stroke-width="1.15"/>
<rect x="379.3" y="339.1" width="4.4" height="29.3" fill="#0b5560" stroke="#168a80" stroke-width="0.6"/>
<line x1="388.5" y1="333.3" x2="388.5" y2="370.7" stroke="#dc4a40" stroke-width="1.15"/>
<rect x="386.3" y="339.2" width="4.4" height="2.5" fill="#e8512d" stroke="#dc4a40" stroke-width="0.6"/>
<line x1="394.5" y1="313.1" x2="394.5" y2="346.5" stroke="#168a80" stroke-width="1.15"/>
<rect x="392.3" y="335.4" width="4.4" height="6.2" fill="#0b5560" stroke="#168a80" stroke-width="0.6"/>
<line x1="401.5" y1="304.0" x2="401.5" y2="349.6" stroke="#168a80" stroke-width="1.15"/>
<rect x="399.3" y="315.1" width="4.4" height="20.4" fill="#0b5560" stroke="#168a80" stroke-width="0.6"/>
<line x1="407.5" y1="305.0" x2="407.5" y2="325.5" stroke="#dc4a40" stroke-width="1.15"/>
<rect x="405.3" y="313.8" width="4.4" height="6.0" fill="#e8512d" stroke="#dc4a40" stroke-width="0.6"/>
<line x1="414.5" y1="300.8" x2="414.5" y2="326.7" stroke="#dc4a40" stroke-width="1.15"/>
<rect x="412.3" y="319.1" width="4.4" height="6.6" fill="#e8512d" stroke="#dc4a40" stroke-width="0.6"/>
<line x1="421.5" y1="298.3" x2="421.5" y2="330.8" stroke="#168a80" stroke-width="1.15"/>
<rect x="419.3" y="300.0" width="4.4" height="25.5" fill="#0b5560" stroke="#168a80" stroke-width="0.6"/>
<line x1="427.5" y1="292.0" x2="427.5" y2="310.6" stroke="#168a80" stroke-width="1.15"/>
<rect x="425.3" y="298.9" width="4.4" height="1.2" fill="#0b5560" stroke="#168a80" stroke-width="0.6"/>
<line x1="434.5" y1="271.1" x2="434.5" y2="343.8" stroke="#dc4a40" stroke-width="1.15"/>
<rect x="432.3" y="298.9" width="4.4" height="44.9" fill="#e8512d" stroke="#dc4a40" stroke-width="0.6"/>
<line x1="440.5" y1="314.1" x2="440.5" y2="350.9" stroke="#168a80" stroke-width="1.15"/>
<rect x="438.3" y="317.9" width="4.4" height="26.5" fill="#0b5560" stroke="#168a80" stroke-width="0.6"/>
<line x1="447.5" y1="304.0" x2="447.5" y2="328.6" stroke="#dc4a40" stroke-width="1.15"/>
<rect x="445.3" y="317.9" width="4.4" height="2.8" fill="#e8512d" stroke="#dc4a40" stroke-width="0.6"/>
<line x1="453.5" y1="271.1" x2="453.5" y2="321.7" stroke="#168a80" stroke-width="1.15"/>
<rect x="451.3" y="272.0" width="4.4" height="48.7" fill="#0b5560" stroke="#168a80" stroke-width="0.6"/>
<line x1="460.5" y1="259.1" x2="460.5" y2="274.5" stroke="#168a80" stroke-width="1.15"/>
<rect x="458.3" y="264.2" width="4.4" height="8.2" fill="#0b5560" stroke="#168a80" stroke-width="0.6"/>
<line x1="466.5" y1="230.4" x2="466.5" y2="280.6" stroke="#168a80" stroke-width="1.15"/>
<rect x="464.3" y="236.2" width="4.4" height="28.2" fill="#0b5560" stroke="#168a80" stroke-width="0.6"/>
<line x1="473.5" y1="228.2" x2="473.5" y2="248.8" stroke="#dc4a40" stroke-width="1.15"/>
<rect x="471.3" y="235.2" width="4.4" height="9.4" fill="#e8512d" stroke="#dc4a40" stroke-width="0.6"/>
<line x1="479.5" y1="240.2" x2="479.5" y2="256.6" stroke="#168a80" stroke-width="1.15"/>
<rect x="477.3" y="243.0" width="4.4" height="1.2" fill="#0b5560" stroke="#168a80" stroke-width="0.6"/>
<line x1="486.5" y1="224.0" x2="486.5" y2="245.5" stroke="#168a80" stroke-width="1.15"/>
<rect x="484.3" y="225.0" width="4.4" height="18.7" fill="#0b5560" stroke="#168a80" stroke-width="0.6"/>
<line x1="492.5" y1="221.2" x2="492.5" y2="242.5" stroke="#dc4a40" stroke-width="1.15"/>
<rect x="490.3" y="225.0" width="4.4" height="12.7" fill="#e8512d" stroke="#dc4a40" stroke-width="0.6"/>
<line x1="499.5" y1="225.3" x2="499.5" y2="239.6" stroke="#168a80" stroke-width="1.15"/>
<rect x="497.3" y="229.2" width="4.4" height="8.5" fill="#0b5560" stroke="#168a80" stroke-width="0.6"/>
<line x1="506.5" y1="214.4" x2="506.5" y2="230.6" stroke="#168a80" stroke-width="1.15"/>
<rect x="504.3" y="218.2" width="4.4" height="12.4" fill="#0b5560" stroke="#168a80" stroke-width="0.6"/>
<line x1="512.5" y1="216.1" x2="512.5" y2="232.5" stroke="#dc4a40" stroke-width="1.15"/>
<rect x="510.3" y="218.0" width="4.4" height="9.7" fill="#e8512d" stroke="#dc4a40" stroke-width="0.6"/>
<line x1="519.5" y1="217.3" x2="519.5" y2="231.8" stroke="#168a80" stroke-width="1.15"/>
<rect x="517.3" y="220.3" width="4.4" height="7.4" fill="#0b5560" stroke="#168a80" stroke-width="0.6"/>
<line x1="525.5" y1="208.1" x2="525.5" y2="225.6" stroke="#168a80" stroke-width="1.15"/>
<rect x="523.3" y="210.2" width="4.4" height="10.6" fill="#0b5560" stroke="#168a80" stroke-width="0.6"/>
<line x1="532.5" y1="209.1" x2="532.5" y2="223.6" stroke="#dc4a40" stroke-width="1.15"/>
<rect x="530.3" y="210.2" width="4.4" height="13.4" fill="#e8512d" stroke="#dc4a40" stroke-width="0.6"/>
<line x1="538.5" y1="199.3" x2="538.5" y2="229.0" stroke="#168a80" stroke-width="1.15"/>
<rect x="536.3" y="200.3" width="4.4" height="23.3" fill="#0b5560" stroke="#168a80" stroke-width="0.6"/>
<line x1="545.5" y1="194.0" x2="545.5" y2="205.6" stroke="#168a80" stroke-width="1.15"/>
<rect x="543.3" y="196.3" width="4.4" height="4.0" fill="#0b5560" stroke="#168a80" stroke-width="0.6"/>
<line x1="551.5" y1="161.3" x2="551.5" y2="197.8" stroke="#168a80" stroke-width="1.15"/>
<rect x="549.3" y="168.1" width="4.4" height="28.4" fill="#0b5560" stroke="#168a80" stroke-width="0.6"/>
<line x1="558.5" y1="167.2" x2="558.5" y2="187.5" stroke="#dc4a40" stroke-width="1.15"/>
<rect x="556.3" y="167.9" width="4.4" height="16.8" fill="#e8512d" stroke="#dc4a40" stroke-width="0.6"/>
<line x1="564.5" y1="174.4" x2="564.5" y2="189.4" stroke="#168a80" stroke-width="1.15"/>
<rect x="562.3" y="177.3" width="4.4" height="7.2" fill="#0b5560" stroke="#168a80" stroke-width="0.6"/>
<line x1="571.5" y1="150.2" x2="571.5" y2="173.7" stroke="#168a80" stroke-width="1.15"/>
<rect x="569.3" y="159.7" width="4.4" height="1.2" fill="#0b5560" stroke="#168a80" stroke-width="0.6"/>
<line x1="578.5" y1="150.2" x2="578.5" y2="167.6" stroke="#168a80" stroke-width="1.15"/>
<rect x="576.3" y="158.4" width="4.4" height="1.9" fill="#0b5560" stroke="#168a80" stroke-width="0.6"/>
<line x1="584.5" y1="156.3" x2="584.5" y2="167.6" stroke="#168a80" stroke-width="1.15"/>
<rect x="582.3" y="157.5" width="4.4" height="1.2" fill="#0b5560" stroke="#168a80" stroke-width="0.6"/>
<line x1="591.5" y1="154.2" x2="591.5" y2="182.7" stroke="#dc4a40" stroke-width="1.15"/>
<rect x="589.3" y="158.0" width="4.4" height="22.8" fill="#e8512d" stroke="#dc4a40" stroke-width="0.6"/>
<line x1="597.5" y1="163.1" x2="597.5" y2="183.7" stroke="#168a80" stroke-width="1.15"/>
<rect x="595.3" y="165.4" width="4.4" height="15.1" fill="#0b5560" stroke="#168a80" stroke-width="0.6"/>
<line x1="604.5" y1="172.3" x2="604.5" y2="187.2" stroke="#dc4a40" stroke-width="1.15"/>
<rect x="602.3" y="177.7" width="4.4" height="1.3" fill="#e8512d" stroke="#dc4a40" stroke-width="0.6"/>
<line x1="610.5" y1="172.3" x2="610.5" y2="191.9" stroke="#dc4a40" stroke-width="1.15"/>
<rect x="608.3" y="179.2" width="4.4" height="8.6" fill="#e8512d" stroke="#dc4a40" stroke-width="0.6"/>
<line x1="617.5" y1="136.3" x2="617.5" y2="192.5" stroke="#168a80" stroke-width="1.15"/>
<rect x="615.3" y="138.2" width="4.4" height="49.2" fill="#0b5560" stroke="#168a80" stroke-width="0.6"/>
<line x1="623.5" y1="136.1" x2="623.5" y2="168.9" stroke="#dc4a40" stroke-width="1.15"/>
<rect x="621.3" y="137.9" width="4.4" height="28.1" fill="#e8512d" stroke="#dc4a40" stroke-width="0.6"/>
<line x1="630.5" y1="157.1" x2="630.5" y2="177.7" stroke="#dc4a40" stroke-width="1.15"/>
<rect x="628.3" y="165.4" width="4.4" height="6.5" fill="#e8512d" stroke="#dc4a40" stroke-width="0.6"/>
<line x1="636.5" y1="149.1" x2="636.5" y2="171.7" stroke="#168a80" stroke-width="1.15"/>
<rect x="634.3" y="153.3" width="4.4" height="18.4" fill="#0b5560" stroke="#168a80" stroke-width="0.6"/>
<line x1="643.5" y1="133.4" x2="643.5" y2="158.0" stroke="#168a80" stroke-width="1.15"/>
<rect x="641.3" y="138.2" width="4.4" height="15.0" fill="#0b5560" stroke="#168a80" stroke-width="0.6"/>
<line x1="650.5" y1="121.3" x2="650.5" y2="141.7" stroke="#168a80" stroke-width="1.15"/>
<rect x="648.3" y="124.1" width="4.4" height="14.5" fill="#0b5560" stroke="#168a80" stroke-width="0.6"/>
<line x1="656.5" y1="108.3" x2="656.5" y2="125.6" stroke="#168a80" stroke-width="1.15"/>
<rect x="654.3" y="111.2" width="4.4" height="12.9" fill="#0b5560" stroke="#168a80" stroke-width="0.6"/>
<line x1="663.5" y1="103.3" x2="663.5" y2="149.6" stroke="#dc4a40" stroke-width="1.15"/>
<rect x="661.3" y="111.2" width="4.4" height="32.4" fill="#e8512d" stroke="#dc4a40" stroke-width="0.6"/>
<line x1="669.5" y1="126.4" x2="669.5" y2="150.5" stroke="#168a80" stroke-width="1.15"/>
<rect x="667.3" y="137.3" width="4.4" height="7.1" fill="#0b5560" stroke="#168a80" stroke-width="0.6"/>
<line x1="676.5" y1="134.8" x2="676.5" y2="159.2" stroke="#168a80" stroke-width="1.15"/>
<rect x="674.3" y="136.7" width="4.4" height="1.3" fill="#0b5560" stroke="#168a80" stroke-width="0.6"/>
<line x1="682.5" y1="117.1" x2="682.5" y2="138.6" stroke="#168a80" stroke-width="1.15"/>
<rect x="680.3" y="125.4" width="4.4" height="12.3" fill="#0b5560" stroke="#168a80" stroke-width="0.6"/>
<line x1="689.5" y1="124.5" x2="689.5" y2="148.6" stroke="#dc4a40" stroke-width="1.15"/>
<rect x="687.3" y="125.1" width="4.4" height="14.8" fill="#e8512d" stroke="#dc4a40" stroke-width="0.6"/>
<line x1="695.5" y1="131.4" x2="695.5" y2="147.5" stroke="#168a80" stroke-width="1.15"/>
<rect x="693.3" y="136.5" width="4.4" height="3.0" fill="#0b5560" stroke="#168a80" stroke-width="0.6"/>
<line x1="702.5" y1="136.1" x2="702.5" y2="154.0" stroke="#168a80" stroke-width="1.15"/>
<rect x="700.3" y="145.1" width="4.4" height="2.2" fill="#0b5560" stroke="#168a80" stroke-width="0.6"/>
<line x1="708.5" y1="140.3" x2="708.5" y2="164.6" stroke="#dc4a40" stroke-width="1.15"/>
<rect x="706.3" y="145.0" width="4.4" height="18.7" fill="#e8512d" stroke="#dc4a40" stroke-width="0.6"/>
<line x1="715.5" y1="160.5" x2="715.5" y2="205.8" stroke="#dc4a40" stroke-width="1.15"/>
<rect x="713.3" y="163.4" width="4.4" height="33.2" fill="#e8512d" stroke="#dc4a40" stroke-width="0.6"/>
<line x1="722.5" y1="182.7" x2="722.5" y2="198.5" stroke="#168a80" stroke-width="1.15"/>
<rect x="720.3" y="189.4" width="4.4" height="6.9" fill="#0b5560" stroke="#168a80" stroke-width="0.6"/>
<line x1="728.5" y1="188.1" x2="728.5" y2="221.6" stroke="#dc4a40" stroke-width="1.15"/>
<rect x="726.3" y="189.0" width="4.4" height="29.8" fill="#e8512d" stroke="#dc4a40" stroke-width="0.6"/>
<line x1="735.5" y1="201.2" x2="735.5" y2="229.2" stroke="#dc4a40" stroke-width="1.15"/>
<rect x="733.3" y="220.1" width="4.4" height="1.2" fill="#e8512d" stroke="#dc4a40" stroke-width="0.6"/>
<line x1="741.5" y1="210.0" x2="741.5" y2="235.8" stroke="#168a80" stroke-width="1.15"/>
<rect x="739.3" y="220.1" width="4.4" height="1.2" fill="#0b5560" stroke="#168a80" stroke-width="0.6"/>
<line x1="748.5" y1="193.2" x2="748.5" y2="221.6" stroke="#168a80" stroke-width="1.15"/>
<rect x="746.3" y="205.2" width="4.4" height="15.4" fill="#0b5560" stroke="#168a80" stroke-width="0.6"/>
<line x1="754.5" y1="201.2" x2="754.5" y2="218.5" stroke="#dc4a40" stroke-width="1.15"/>
<rect x="752.3" y="205.2" width="4.4" height="7.6" fill="#e8512d" stroke="#dc4a40" stroke-width="0.6"/>
<line x1="761.5" y1="200.3" x2="761.5" y2="223.5" stroke="#dc4a40" stroke-width="1.15"/>
<rect x="759.3" y="212.1" width="4.4" height="2.6" fill="#e8512d" stroke="#dc4a40" stroke-width="0.6"/>
<line x1="767.5" y1="191.2" x2="767.5" y2="218.5" stroke="#168a80" stroke-width="1.15"/>
<rect x="765.3" y="194.2" width="4.4" height="22.4" fill="#0b5560" stroke="#168a80" stroke-width="0.6"/>
<line x1="774.5" y1="178.4" x2="774.5" y2="198.3" stroke="#168a80" stroke-width="1.15"/>
<rect x="772.3" y="181.6" width="4.4" height="12.9" fill="#0b5560" stroke="#168a80" stroke-width="0.6"/>
<line x1="780.5" y1="167.2" x2="780.5" y2="196.6" stroke="#168a80" stroke-width="1.15"/>
<rect x="778.3" y="173.2" width="4.4" height="7.9" fill="#0b5560" stroke="#168a80" stroke-width="0.6"/>
<line x1="787.5" y1="168.3" x2="787.5" y2="183.7" stroke="#168a80" stroke-width="1.15"/>
<rect x="785.3" y="171.3" width="4.4" height="2.2" fill="#0b5560" stroke="#168a80" stroke-width="0.6"/>
<line x1="794.5" y1="150.9" x2="794.5" y2="172.0" stroke="#168a80" stroke-width="1.15"/>
<rect x="792.3" y="155.1" width="4.4" height="16.9" fill="#0b5560" stroke="#168a80" stroke-width="0.6"/>
<line x1="800.5" y1="140.2" x2="800.5" y2="158.8" stroke="#168a80" stroke-width="1.15"/>
<rect x="798.3" y="146.2" width="4.4" height="8.5" fill="#0b5560" stroke="#168a80" stroke-width="0.6"/>
<line x1="807.5" y1="142.0" x2="807.5" y2="161.9" stroke="#dc4a40" stroke-width="1.15"/>
<rect x="805.3" y="146.2" width="4.4" height="10.4" fill="#e8512d" stroke="#dc4a40" stroke-width="0.6"/>
<line x1="813.5" y1="133.5" x2="813.5" y2="158.5" stroke="#168a80" stroke-width="1.15"/>
<rect x="811.3" y="134.1" width="4.4" height="22.5" fill="#0b5560" stroke="#168a80" stroke-width="0.6"/>
<line x1="820.5" y1="85.2" x2="820.5" y2="140.8" stroke="#168a80" stroke-width="1.15"/>
<rect x="818.3" y="92.1" width="4.4" height="42.4" fill="#0b5560" stroke="#168a80" stroke-width="0.6"/>
<line x1="826.5" y1="82.9" x2="826.5" y2="115.5" stroke="#dc4a40" stroke-width="1.15"/>
<rect x="824.3" y="92.1" width="4.4" height="17.3" fill="#e8512d" stroke="#dc4a40" stroke-width="0.6"/>
<line x1="833.5" y1="94.3" x2="833.5" y2="109.4" stroke="#168a80" stroke-width="1.15"/>
<rect x="831.3" y="95.9" width="4.4" height="13.5" fill="#0b5560" stroke="#168a80" stroke-width="0.6"/>
<line x1="839.5" y1="92.1" x2="839.5" y2="99.7" stroke="#168a80" stroke-width="1.15"/>
<rect x="837.3" y="94.3" width="4.4" height="2.3" fill="#0b5560" stroke="#168a80" stroke-width="0.6"/>
<line x1="846.5" y1="81.2" x2="846.5" y2="96.6" stroke="#168a80" stroke-width="1.15"/>
<rect x="844.3" y="83.3" width="4.4" height="11.4" fill="#0b5560" stroke="#168a80" stroke-width="0.6"/>
<line x1="852.5" y1="82.9" x2="852.5" y2="92.8" stroke="#dc4a40" stroke-width="1.15"/>
<rect x="850.3" y="82.9" width="4.4" height="2.9" fill="#e8512d" stroke="#dc4a40" stroke-width="0.6"/>
<line x1="859.5" y1="81.2" x2="859.5" y2="103.9" stroke="#dc4a40" stroke-width="1.15"/>
<rect x="857.3" y="86.2" width="4.4" height="15.4" fill="#e8512d" stroke="#dc4a40" stroke-width="0.6"/>
<line x1="866.5" y1="90.3" x2="866.5" y2="114.9" stroke="#168a80" stroke-width="1.15"/>
<rect x="864.3" y="93.4" width="4.4" height="8.2" fill="#0b5560" stroke="#168a80" stroke-width="0.6"/>
<line x1="872.5" y1="84.2" x2="872.5" y2="107.9" stroke="#168a80" stroke-width="1.15"/>
<rect x="870.3" y="90.3" width="4.4" height="3.1" fill="#0b5560" stroke="#168a80" stroke-width="0.6"/>
<line x1="879.5" y1="89.0" x2="879.5" y2="101.0" stroke="#dc4a40" stroke-width="1.15"/>
<rect x="877.3" y="90.0" width="4.4" height="5.1" fill="#e8512d" stroke="#dc4a40" stroke-width="0.6"/>
<line x1="885.5" y1="83.3" x2="885.5" y2="110.7" stroke="#168a80" stroke-width="1.15"/>
<rect x="883.3" y="89.0" width="4.4" height="7.3" fill="#0b5560" stroke="#168a80" stroke-width="0.6"/>
<line x1="892.5" y1="75.1" x2="892.5" y2="91.5" stroke="#168a80" stroke-width="1.15"/>
<rect x="890.3" y="81.2" width="4.4" height="8.0" fill="#0b5560" stroke="#168a80" stroke-width="0.6"/>
<line x1="898.5" y1="73.2" x2="898.5" y2="83.7" stroke="#168a80" stroke-width="1.15"/>
<rect x="896.3" y="76.1" width="4.4" height="5.3" fill="#0b5560" stroke="#168a80" stroke-width="0.6"/>
<line x1="905.5" y1="76.1" x2="905.5" y2="88.7" stroke="#dc4a40" stroke-width="1.15"/>
<rect x="903.3" y="76.1" width="4.4" height="4.7" fill="#e8512d" stroke="#dc4a40" stroke-width="0.6"/>
<line x1="911.5" y1="68.2" x2="911.5" y2="96.3" stroke="#dc4a40" stroke-width="1.15"/>
<rect x="909.3" y="80.2" width="4.4" height="7.5" fill="#e8512d" stroke="#dc4a40" stroke-width="0.6"/>
<line x1="918.5" y1="83.3" x2="918.5" y2="99.7" stroke="#dc4a40" stroke-width="1.15"/>
<rect x="916.3" y="87.1" width="4.4" height="4.7" fill="#e8512d" stroke="#dc4a40" stroke-width="0.6"/>
<line x1="924.5" y1="79.1" x2="924.5" y2="96.6" stroke="#168a80" stroke-width="1.15"/>
<rect x="922.3" y="83.3" width="4.4" height="8.2" fill="#0b5560" stroke="#168a80" stroke-width="0.6"/>
<line x1="931.5" y1="80.8" x2="931.5" y2="115.6" stroke="#dc4a40" stroke-width="1.15"/>
<rect x="929.3" y="83.0" width="4.4" height="24.0" fill="#e8512d" stroke="#dc4a40" stroke-width="0.6"/>
</g>
<g font-size="11.8" fill="#8e8e8e" text-anchor="end">
<text x="104" y="100.4">0.786 (157.163)</text>
<text x="104" y="162.2">0.618 (153.404)</text>
<text x="104" y="205.5">0.5 (150.764)</text>
</g>
<g font-size="23" font-weight="bold" fill="#1d1050">
<text x="596.4" y="334.5" textLength="91.3" lengthAdjust="spacingAndGlyphs">USD/JPY</text>
<text x="697.5" y="334.5" textLength="53" lengthAdjust="spacingAndGlyphs">Daily</text>
<text x="762.8" y="334.5" textLength="58" lengthAdjust="spacingAndGlyphs">Chart</text>
</g>
<g fill="none">
<path d="M145 475 L145.7 474.1 L151.6 478.0 L158.5 483.9 L165.4 485.9 L172.2 489.4 L178.5 491.4 L185.0 490.8 L191.9 478.0 L197.9 475.6 L200 475 Z" fill="url(#os)" clip-path="url(#below30)"/>
<line x1="-1" y1="437.5" x2="957.5" y2="437.5" stroke="#5a5864" stroke-width="1" stroke-dasharray="5 5.9" stroke-dashoffset="-4.5"/>
<line x1="-1" y1="456.5" x2="957.5" y2="456.5" stroke="#9896a4" stroke-width="1" stroke-dasharray="5 5.9" stroke-dashoffset="-4.5"/>
<line x1="-1" y1="475.5" x2="957.5" y2="475.5" stroke="#5a5864" stroke-width="1" stroke-dasharray="5 5.9" stroke-dashoffset="-4.5"/>
<path d="M0.0 444.1 C1.0 443.9 4.0 443.2 6.0 442.7 C8.0 442.3 10.0 441.8 12.0 441.4 C14.0 440.9 16.0 440.4 18.0 440.0 C20.0 439.6 22.0 439.3 24.0 439.0 C26.0 438.6 28.0 438.4 30.0 438.1 C32.0 437.8 34.0 437.5 36.0 437.2 C38.0 437.0 40.0 436.8 42.0 436.6 C44.0 436.4 46.0 436.4 48.0 436.3 C50.0 436.2 52.0 436.0 54.0 436.0 C56.0 435.9 58.0 435.9 60.0 436.1 C62.0 436.3 64.0 436.7 66.0 437.1 C68.0 437.4 70.0 437.8 72.0 438.3 C74.0 438.7 76.0 439.1 78.0 439.7 C80.0 440.2 82.0 441.0 84.0 441.7 C86.0 442.5 88.0 443.3 90.0 444.1 C92.0 444.9 94.0 445.7 96.0 446.6 C98.0 447.4 100.0 448.2 102.0 449.1 C104.0 450.0 106.0 450.9 108.0 451.8 C110.0 452.7 112.0 453.6 114.0 454.5 C116.0 455.3 118.0 456.2 120.0 457.0 C122.0 457.9 124.0 458.7 126.0 459.5 C128.0 460.3 130.0 461.1 132.0 461.9 C134.0 462.7 136.0 463.5 138.0 464.2 C140.0 465.0 142.0 465.7 144.0 466.4 C146.0 467.1 148.0 467.8 150.0 468.5 C152.0 469.2 154.0 469.9 156.0 470.5 C158.0 471.1 160.0 471.7 162.0 472.2 C164.0 472.8 166.0 473.2 168.0 473.7 C170.0 474.2 172.0 474.7 174.0 475.2 C176.0 475.6 178.0 476.0 180.0 476.4 C182.0 476.7 184.0 476.9 186.0 477.2 C188.0 477.5 190.0 477.9 192.0 478.2 C194.0 478.5 196.0 478.9 198.0 479.2 C200.0 479.4 202.0 479.6 204.0 479.7 C206.0 479.8 208.0 479.8 210.0 479.8 C212.0 479.8 214.0 479.9 216.0 479.9 C218.0 479.9 220.0 479.8 222.0 479.7 C224.0 479.6 226.0 479.3 228.0 479.1 C230.0 478.9 232.0 478.7 234.0 478.5 C236.0 478.3 238.0 478.1 240.0 477.8 C242.0 477.6 244.0 477.3 246.0 477.0 C248.0 476.7 250.0 476.4 252.0 476.1 C254.0 475.8 256.0 475.4 258.0 475.2 C260.0 474.9 262.0 474.6 264.0 474.4 C266.0 474.1 268.0 473.8 270.0 473.6 C272.0 473.3 274.0 473.1 276.0 472.8 C278.0 472.6 280.0 472.3 282.0 472.1 C284.0 471.8 286.0 471.6 288.0 471.4 C290.0 471.1 292.0 470.9 294.0 470.6 C296.0 470.4 298.0 470.1 300.0 469.8 C302.0 469.6 304.0 469.2 306.0 469.0 C308.0 468.7 310.0 468.4 312.0 468.3 C314.0 468.2 316.0 468.2 318.0 468.3 C320.0 468.3 322.0 468.4 324.0 468.4 C326.0 468.5 328.0 468.5 330.0 468.6 C332.0 468.6 334.0 468.7 336.0 468.7 C338.0 468.8 340.0 468.9 342.0 468.9 C344.0 469.0 346.0 469.0 348.0 469.1 C350.0 469.1 352.0 469.1 354.0 469.1 C356.0 469.1 358.0 469.1 360.0 469.1 C362.0 469.1 364.0 469.1 366.0 469.1 C368.0 469.0 370.0 469.0 372.0 468.9 C374.0 468.8 376.0 468.7 378.0 468.6 C380.0 468.5 382.0 468.4 384.0 468.4 C386.0 468.4 388.0 468.5 390.0 468.6 C392.0 468.6 394.0 468.8 396.0 468.9 C398.0 468.9 400.0 468.9 402.0 468.8 C404.0 468.7 406.0 468.5 408.0 468.3 C410.0 468.1 412.0 467.9 414.0 467.7 C416.0 467.5 418.0 467.3 420.0 467.1 C422.0 466.8 424.0 466.5 426.0 466.2 C428.0 465.9 430.0 465.6 432.0 465.3 C434.0 465.0 436.0 464.7 438.0 464.3 C440.0 464.0 442.0 463.6 444.0 463.2 C446.0 462.8 448.0 462.3 450.0 461.9 C452.0 461.4 454.0 460.8 456.0 460.3 C458.0 459.7 460.0 459.0 462.0 458.4 C464.0 457.8 466.0 457.1 468.0 456.6 C470.0 456.0 472.0 455.5 474.0 455.0 C476.0 454.4 478.0 454.0 480.0 453.5 C482.0 453.0 484.0 452.5 486.0 452.0 C488.0 451.5 490.0 451.1 492.0 450.8 C494.0 450.4 496.0 450.0 498.0 449.7 C500.0 449.3 502.0 449.0 504.0 448.6 C506.0 448.2 508.0 447.9 510.0 447.5 C512.0 447.1 514.0 446.7 516.0 446.3 C518.0 446.0 520.0 445.5 522.0 445.2 C524.0 444.8 526.0 444.5 528.0 444.2 C530.0 443.9 532.0 443.7 534.0 443.5 C536.0 443.3 538.0 443.1 540.0 442.9 C542.0 442.7 544.0 442.5 546.0 442.3 C548.0 442.2 550.0 442.0 552.0 441.8 C554.0 441.7 556.0 441.5 558.0 441.3 C560.0 441.2 562.0 441.0 564.0 440.9 C566.0 440.7 568.0 440.6 570.0 440.5 C572.0 440.5 574.0 440.4 576.0 440.4 C578.0 440.3 580.0 440.3 582.0 440.2 C584.0 440.2 586.0 440.1 588.0 440.1 C590.0 440.1 592.0 440.1 594.0 440.1 C596.0 440.2 598.0 440.3 600.0 440.3 C602.0 440.4 604.0 440.4 606.0 440.5 C608.0 440.6 610.0 440.6 612.0 440.7 C614.0 440.8 616.0 440.9 618.0 441.0 C620.0 441.1 622.0 441.2 624.0 441.3 C626.0 441.4 628.0 441.5 630.0 441.6 C632.0 441.7 634.0 441.7 636.0 441.8 C638.0 441.9 640.0 441.9 642.0 442.0 C644.0 442.1 646.0 442.1 648.0 442.2 C650.0 442.4 652.0 442.5 654.0 442.7 C656.0 442.9 658.0 443.1 660.0 443.3 C662.0 443.5 664.0 443.7 666.0 443.8 C668.0 444.0 670.0 444.1 672.0 444.2 C674.0 444.3 676.0 444.4 678.0 444.5 C680.0 444.6 682.0 444.6 684.0 444.7 C686.0 444.8 688.0 444.9 690.0 445.0 C692.0 445.1 694.0 445.3 696.0 445.4 C698.0 445.5 700.0 445.6 702.0 445.7 C704.0 445.9 706.0 446.0 708.0 446.3 C710.0 446.6 712.0 447.0 714.0 447.3 C716.0 447.7 718.0 448.1 720.0 448.5 C722.0 448.9 724.0 449.3 726.0 449.8 C728.0 450.2 730.0 450.7 732.0 451.2 C734.0 451.8 736.0 452.3 738.0 452.9 C740.0 453.4 742.0 454.0 744.0 454.5 C746.0 455.0 748.0 455.4 750.0 455.8 C752.0 456.1 754.0 456.3 756.0 456.6 C758.0 456.9 760.0 457.2 762.0 457.5 C764.0 457.8 766.0 458.1 768.0 458.5 C770.0 458.8 772.0 459.2 774.0 459.5 C776.0 459.8 778.0 460.0 780.0 460.2 C782.0 460.4 784.0 460.6 786.0 460.6 C788.0 460.7 790.0 460.6 792.0 460.5 C794.0 460.3 796.0 460.0 798.0 459.7 C800.0 459.4 802.0 459.2 804.0 458.8 C806.0 458.4 808.0 458.0 810.0 457.6 C812.0 457.1 814.0 456.6 816.0 456.1 C818.0 455.6 820.0 455.0 822.0 454.4 C824.0 453.8 826.0 453.2 828.0 452.5 C830.0 451.9 832.0 451.2 834.0 450.6 C836.0 450.0 838.0 449.4 840.0 448.8 C842.0 448.3 844.0 447.8 846.0 447.2 C848.0 446.7 850.0 446.2 852.0 445.7 C854.0 445.2 856.0 444.7 858.0 444.4 C860.0 444.0 862.0 443.7 864.0 443.5 C866.0 443.2 868.0 443.0 870.0 442.9 C872.0 442.7 874.0 442.5 876.0 442.3 C878.0 442.2 880.0 442.1 882.0 441.9 C884.0 441.7 886.0 441.5 888.0 441.3 C890.0 441.1 892.0 440.7 894.0 440.5 C896.0 440.3 898.0 440.2 900.0 440.2 C902.0 440.1 904.0 440.3 906.0 440.4 C908.0 440.4 910.0 440.6 912.0 440.7 C914.0 440.9 916.0 441.1 918.0 441.3 C920.0 441.6 922.0 441.8 924.0 442.0 C926.0 442.3 928.7 442.6 930.0 442.8 C931.3 443.0 931.7 443.0 932.0 443.1" stroke="#ece281" stroke-width="1.5" stroke-linejoin="round"/>
<path d="M0.0 434.3 L7.9 433.7 L14.8 431.1 L21.7 431.1 L27.6 430.2 L35.4 436.7 L40.4 440.6 L47.2 440.6 L55.1 437.2 L61.0 436.3 L66.9 460.3 L73.8 464.2 L79.7 463.8 L86.6 461.7 L92.9 471.7 L100.4 463.2 L106.3 463.2 L112.6 465.2 L119.1 470.7 L126.0 476.0 L132.3 476.4 L138.8 476.4 L145.7 474.1 L151.6 478.0 L158.5 483.9 L165.4 485.9 L172.2 489.4 L178.5 491.4 L185.0 490.8 L191.9 478.0 L197.9 475.6 L204.8 476.4 L210.7 473.7 L216.6 475.0 L223.5 472.1 L230.7 462.8 L237.2 467.8 L244.1 470.7 L250.4 473.5 L256.9 473.5 L263.8 468.1 L269.7 472.7 L276.6 472.1 L282.5 473.7 L289.4 470.5 L296.3 468.1 L302.6 463.6 L309.1 459.9 L315.0 463.8 L321.5 468.7 L328.8 470.5 L335.7 473.5 L341.6 468.7 L348.5 470.7 L355.4 471.5 L361.3 472.7 L368.1 475.4 L374.6 475.4 L380.6 465.8 L386.9 466.2 L393.8 464.2 L400.7 458.3 L407.6 459.3 L413.9 461.3 L420.7 453.8 L427.2 453.8 L434.1 463.8 L440.4 457.9 L446.9 458.3 L453.2 448.1 L459.7 446.5 L466.2 442.2 L472.5 444.1 L479.4 444.1 L485.9 441.0 L492.6 444.5 L499.1 443.0 L505.6 441.2 L512.3 444.1 L518.8 443.0 L525.3 440.6 L532.0 444.9 L538.5 440.6 L545.0 439.6 L551.7 435.3 L558.1 440.2 L565.0 439.0 L571.9 436.7 L576.9 436.7 L583.8 436.3 L590.7 444.5 L597.2 442.2 L603.9 446.1 L610.4 448.9 L616.9 439.6 L623.5 447.5 L630.0 448.9 L636.5 446.5 L643.2 443.5 L649.7 441.0 L656.2 438.6 L662.9 447.5 L669.4 446.5 L675.9 446.1 L682.6 444.5 L689.1 448.1 L695.6 447.9 L702.3 450.4 L708.8 455.4 L715.3 463.2 L722.0 461.3 L728.5 467.2 L735.0 467.6 L741.3 467.6 L748.1 462.2 L754.6 464.2 L761.3 464.6 L766.9 458.3 L773.4 455.4 L779.7 453.0 L786.6 452.0 L793.5 447.5 L799.4 445.5 L806.9 449.1 L813.1 443.1 L819.6 436.3 L825.9 442.2 L832.4 440.2 L838.7 439.2 L845.6 437.6 L852.5 438.2 L859.0 444.1 L865.9 442.6 L872.2 442.2 L879.1 443.5 L885.6 442.2 L892.3 440.2 L898.8 439.6 L905.3 441.6 L911.6 444.9 L918.1 446.5 L925.0 444.1 L930.9 454.0" stroke="#7d6cc5" stroke-width="1.1" stroke-linejoin="round"/>
</g>
<g stroke="#dddfe4" stroke-width="1" shape-rendering="crispEdges">
<line x1="0" y1="422.5" x2="1016" y2="422.5"/>
<line x1="0" y1="499.5" x2="1016" y2="499.5"/>
<line x1="957.5" y1="0" x2="957.5" y2="523"/>
</g>
<g font-size="12" fill="#23262f" stroke="#23262f" stroke-width="0.3">
<text x="966.5" y="415.3" textLength="41.5" lengthAdjust="spacingAndGlyphs">138.000</text>
<text x="966.5" y="382.4" textLength="41.5" lengthAdjust="spacingAndGlyphs">140.000</text>
<text x="966.5" y="349.5" textLength="41.5" lengthAdjust="spacingAndGlyphs">142.000</text>
<text x="966.5" y="316.7" textLength="41.5" lengthAdjust="spacingAndGlyphs">144.000</text>
<text x="966.5" y="283.8" textLength="41.5" lengthAdjust="spacingAndGlyphs">146.000</text>
<text x="966.5" y="251.0" textLength="41.5" lengthAdjust="spacingAndGlyphs">148.000</text>
<text x="966.5" y="218.1" textLength="41.5" lengthAdjust="spacingAndGlyphs">150.000</text>
<text x="966.5" y="185.2" textLength="41.5" lengthAdjust="spacingAndGlyphs">152.000</text>
<text x="966.5" y="152.4" textLength="41.5" lengthAdjust="spacingAndGlyphs">154.000</text>
<text x="966.5" y="119.5" textLength="41.5" lengthAdjust="spacingAndGlyphs">156.000</text>
<text x="966.5" y="86.7" textLength="41.5" lengthAdjust="spacingAndGlyphs">158.000</text>
<text x="966.5" y="53.8" textLength="41.5" lengthAdjust="spacingAndGlyphs">160.000</text>
<text x="967.3" y="432" textLength="27.6" lengthAdjust="spacingAndGlyphs">80.00</text>
<text x="967.3" y="470.8" textLength="27.6" lengthAdjust="spacingAndGlyphs">40.00</text>
</g>
<rect x="958" y="8.9" width="56.0" height="17.0" rx="2" fill="#1f0d55"/>
<text x="966.5" y="21.4" font-size="12" fill="#ffffff" font-weight="bold" textLength="41.5" lengthAdjust="spacingAndGlyphs">161.951</text>
<rect x="958" y="81.1" width="56.0" height="17.0" rx="2" fill="#8fb4f0"/>
<text x="966.5" y="93.6" font-size="12" fill="#10163a" stroke="#10163a" stroke-width="0.3" textLength="41.5" lengthAdjust="spacingAndGlyphs">156.998</text>
<rect x="958" y="97.7" width="56.0" height="17.0" rx="2" fill="#f27583"/>
<text x="966.5" y="110.2" font-size="12" fill="#ffffff" font-weight="bold" textLength="41.5" lengthAdjust="spacingAndGlyphs">156.518</text>
<rect x="958" y="160.7" width="56.0" height="17.0" rx="2" fill="#0a0a0a"/>
<text x="966.5" y="173.2" font-size="12" fill="#ffffff" font-weight="bold" textLength="41.5" lengthAdjust="spacingAndGlyphs">152.726</text>
<rect x="958" y="194.9" width="56.0" height="17.0" rx="2" fill="#b2b5be"/>
<text x="966.5" y="207.4" font-size="12" fill="#1a1d26" stroke="#1a1d26" stroke-width="0.3" textLength="41.5" lengthAdjust="spacingAndGlyphs">150.665</text>
<rect x="958" y="429.1" width="43.3" height="16.9" rx="2" fill="#fbd13a"/>
<text x="966.5" y="441.5" font-size="12" fill="#1a1d26" stroke="#1a1d26" stroke-width="0.3" textLength="28.5" lengthAdjust="spacingAndGlyphs">63.40</text>
<rect x="958" y="445.9" width="43.3" height="16.7" rx="2" fill="#7e57c2"/>
<text x="966.5" y="458.3" font-size="12" fill="#ffffff" font-weight="bold" textLength="28.5" lengthAdjust="spacingAndGlyphs">52.17</text>
<g font-size="12" fill="#23262f" stroke="#23262f" stroke-width="0.3" text-anchor="middle">
<text x="15.4" y="517">Jul</text>
<text x="165.9" y="517">Aug</text>
<text x="309.9" y="517">Sep</text>
<text x="447.3" y="517">Oct</text>
<text x="597.8" y="517">Nov</text>
<text x="735.2" y="517">Dec</text>
<text x="872.7" y="517" font-weight="bold">2025</text>
</g>
<text x="951.5" y="517" font-size="12" fill="#23262f" stroke="#23262f" stroke-width="0.3">2</text>
<rect x="958" y="500" width="20" height="23" fill="#fff"/>
<g fill="#ffffff" stroke="#ffffff" stroke-width="7" stroke-linejoin="round"><path d="M5 470H16.7V484.7H11V475.7H5Z"/><circle cx="21.9" cy="472.9" r="2.9"/><path d="M28.8 470H34.8L29.1 484.7H22.4Z"/><rect x="-2" y="470" width="8" height="3"/></g>
<g fill="#1a1e29"><path d="M5 470H16.7V484.7H11V475.7H5Z"/><circle cx="21.9" cy="472.9" r="2.9"/><path d="M28.8 470H34.8L29.1 484.7H22.4Z"/></g>
<g fill="none" stroke="#1e222d" stroke-width="1.2"><path d="M981.3 513.3L985 507.2H992.2L995.8 513.3L992.2 519.4H985Z"/><circle cx="988.5" cy="513.3" r="2"/></g>
</svg></body></html>
